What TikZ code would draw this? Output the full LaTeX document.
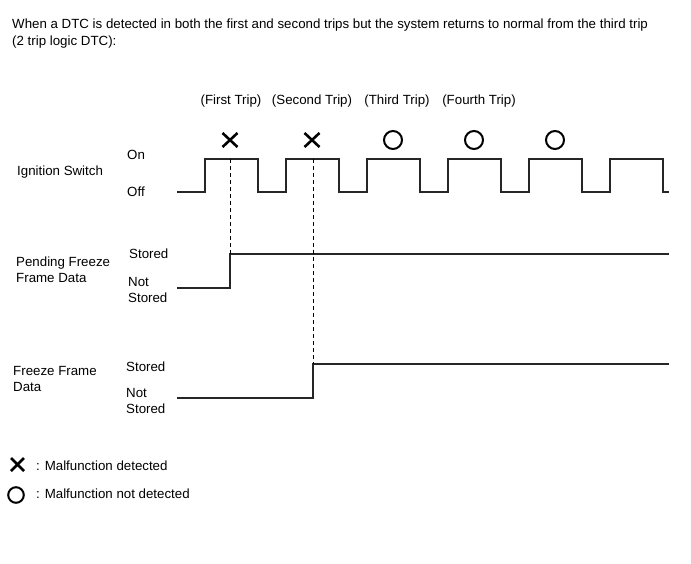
\documentclass[tikz,border=0pt]{standalone}
\usepackage{fontspec}
\setmainfont{Liberation Sans}
\usetikzlibrary{positioning}

\begin{document}
\begin{tikzpicture}[x=1pt, y=-1pt,
    lbl/.style={font=\fontsize{13.3}{16}\selectfont, inner sep=0pt, align=left, anchor=west},
    trip/.style={font=\fontsize{13.3}{16}\selectfont, inner sep=0pt},
    wave/.style={line width=1.2pt, black!85},
    guide/.style={line width=0.7pt, dash pattern=on 4pt off 3pt},
    xmark/.style={line width=2.6pt},
    omark/.style={line width=2pt}]
  \useasboundingbox (0,0) rectangle (691,564);
  % heading
  \node[lbl] (head1) at (12,25) {When a DTC is detected in both the first and second trips but the system returns to normal from the third trip};
  \node[lbl] (head2) at (12,42) {(2 trip logic DTC):};
  % trip names
  \node[trip] (t1) at (231,101) {(First Trip)};
  \node[trip] (t2) at (312,101) {(Second Trip)};
  \node[trip] (t3) at (397,101) {(Third Trip)};
  \node[trip] (t4) at (479,101) {(Fourth Trip)};
  % row labels
  \node[lbl] (ign) at (17,172) {Ignition Switch};
  \node[lbl] (on) at (127,155) {On};
  \node[lbl] (off) at (127,192) {Off};
  \node[lbl] (pffd) at (16,270) {Pending Freeze\\Frame Data};
  \node[lbl] (pst) at (129,254) {Stored};
  \node[lbl] (pnst) at (128,290) {Not\\Stored};
  \node[lbl] (ffd) at (13,379) {Freeze Frame\\Data};
  \node[lbl] (fst) at (126,367) {Stored};
  \node[lbl] (fnst) at (126,401) {Not\\Stored};
  % ignition switch cycles
  \coordinate (i0) at (177,192);
  \coordinate (i1) at (669,192);
  \draw[wave] (i0)
    \foreach \k in {0,...,5} {
      -| ({205+81*\k},159) -| ({258+81*\k},192)
    } -- (i1);
  % pending freeze frame data
  \coordinate (p0) at (177,288);
  \coordinate (p1) at (230,288);
  \coordinate (p2) at (230,254);
  \coordinate (p3) at (669,254);
  \draw[wave] (p0) -- (p1) -- (p2) -- (p3);
  % freeze frame data
  \coordinate (f0) at (177,398);
  \coordinate (f1) at (313,398);
  \coordinate (f2) at (313,364);
  \coordinate (f3) at (669,364);
  \draw[wave] (f0) -- (f1) -- (f2) -- (f3);
  % guides
  \coordinate (g1) at (230,159);
  \coordinate (g2) at (313,159);
  \draw[guide] (g1) -- (p2);
  \draw[guide] (g2) -- (f2);
  % trip marks
  \foreach \cx in {230,312} {
    \draw[xmark] (\cx-7.5,133) -- (\cx+7.5,147) (\cx-7.5,147) -- (\cx+7.5,133);
  }
  \foreach \cx in {393,474,555} {
    \draw[omark] (\cx,140) circle (9);
  }
  % legend
  \draw[xmark] (11,458) -- (24,471) (11,471) -- (24,458);
  \node[lbl] (leg1) at (36,466) {: Malfunction detected};
  \draw[omark] (16,495) circle (7.8);
  \node[lbl] (leg2) at (36,494) {: Malfunction not detected};
\end{tikzpicture}
\end{document}
